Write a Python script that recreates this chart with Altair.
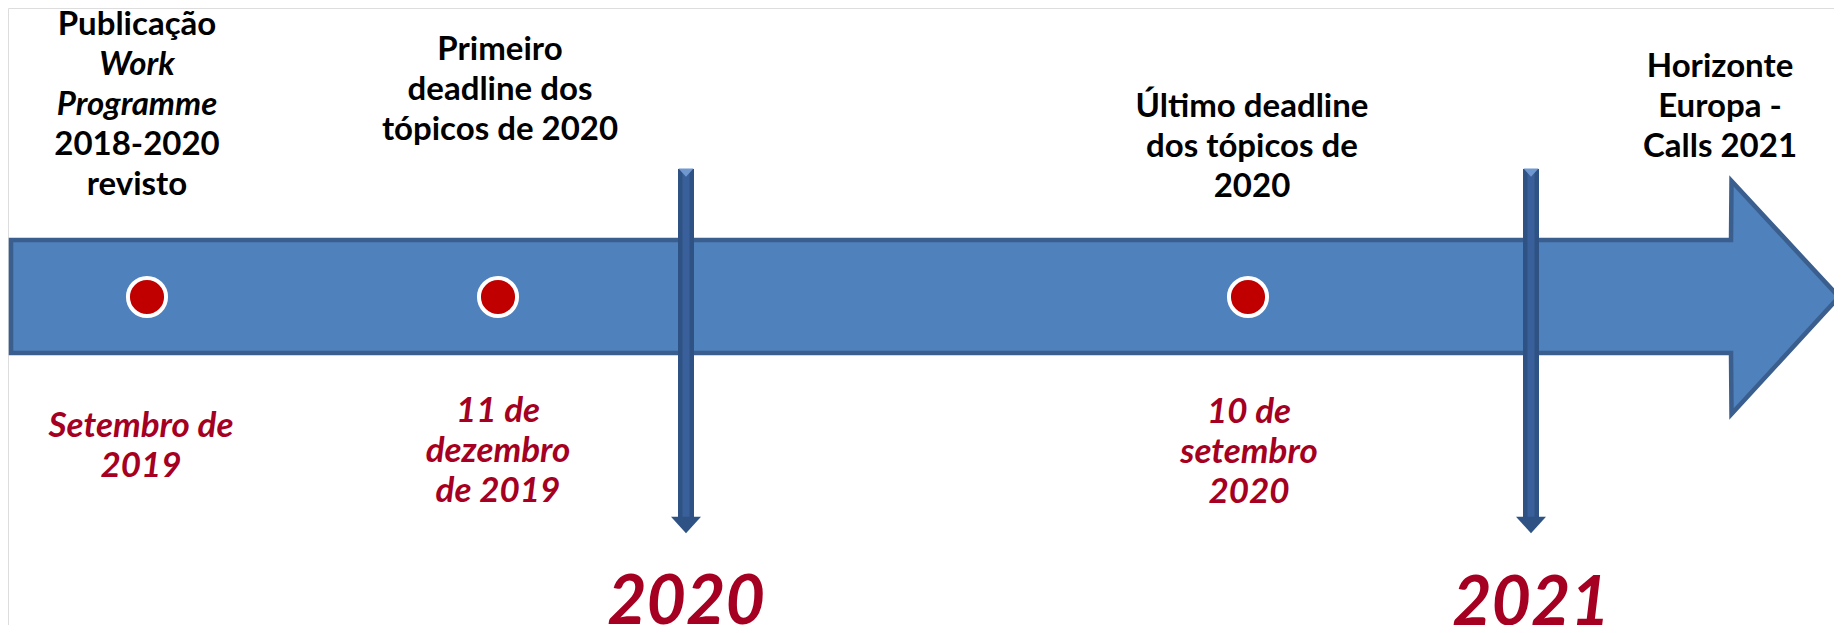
import altair as alt
import pandas as pd

# ---------------- data ----------------
# main timeline arrow (outline vertices: x, top edge, bottom edge)
arrow_x = [11, 1731, 1731.5, 1839]
arrow_top = [240, 240, 181, 297]
arrow_bottom = [353, 353, 414, 297]

# events (red dots)
event_x = [147, 498, 1248]
event_y = [297, 297, 297]

# year separators
year_labels = ["2020", "2021"]
year_x = [686, 1531]
year_line_top = [169, 169]
year_line_bottom = [519, 519]
year_cap_y = [176, 176]
year_head_y = [525, 525]
year_text_y = [624, 625]

# labels above the arrow (group index, italic flag)
top_text = ["Publicação", "Work", "Programme", "2018-2020", "revisto",
            "Primeiro", "deadline dos", "tópicos de 2020",
            "Último deadline", "dos tópicos de", "2020",
            "Horizonte", "Europa -", "Calls 2021"]
top_group = [0, 0, 0, 0, 0, 1, 1, 1, 2, 2, 2, 3, 3, 3]
top_italic = [False, True, True, False, False,
              False, False, False,
              False, False, False,
              False, False, False]
top_group_x = [137, 500, 1252, 1720]
top_group_y = [35, 60, 117, 77]

# date labels below the arrow
bottom_text = ["Setembro de", "2019",
               "11 de", "dezembro", "de 2019",
               "10 de", "setembro", "2020"]
bottom_group = [0, 0, 1, 1, 1, 2, 2, 2]
bottom_group_x = [141, 498, 1249]
bottom_group_y = [437, 422, 423]

LINE_H = 40

# ---------------- tables ----------------
def lines_table(texts, groups, gx, gy, italic=None):
    rows = []
    idx = {}
    for i, (t, g) in enumerate(zip(texts, groups)):
        k = idx.get(g, 0)
        idx[g] = k + 1
        rows.append({"text": t, "x": gx[g], "y": gy[g] + k * LINE_H,
                     "italic": bool(italic[i]) if italic else True})
    return pd.DataFrame(rows)

arrow_df = pd.DataFrame({"x": arrow_x, "top": arrow_top, "bottom": arrow_bottom})
event_df = pd.DataFrame({"x": event_x, "y": event_y})
year_df = pd.DataFrame({"label": year_labels, "x": year_x, "top": year_line_top,
                        "bottom": year_line_bottom, "cap": year_cap_y,
                        "head": year_head_y, "ty": year_text_y})
top_df = lines_table(top_text, top_group, top_group_x, top_group_y, top_italic)
bot_df = lines_table(bottom_text, bottom_group, bottom_group_x, bottom_group_y)

X_DOMAIN = [8, 1834]
Y_DOMAIN = [8, 625]


def X(f):
    return alt.X(f, type="quantitative",
                 scale=alt.Scale(domain=X_DOMAIN, nice=False, zero=False), axis=None)


def Y(f):
    return alt.Y(f, type="quantitative",
                 scale=alt.Scale(domain=Y_DOMAIN, nice=False, zero=False, reverse=True),
                 axis=None)


FONT = "Lato"
RED_TXT = "#A50021"
LINE_DARK = "#2E5283"
LINE_MID = "#39609A"

arrow = alt.Chart(arrow_df).mark_area(
    fill="#4F81BD", stroke="#3A5F8E", strokeWidth=4.5, interpolate="linear",
    clip=False, opacity=1
).encode(x=X("x"), y=Y("top"), y2=alt.Y2("bottom"))

rule_outer = alt.Chart(year_df).mark_rule(
    color=LINE_DARK, strokeWidth=16, clip=False
).encode(x=X("x"), y=Y("top"), y2=alt.Y2("bottom"))

rule_inner = alt.Chart(year_df).mark_rule(
    color=LINE_MID, strokeWidth=7, clip=False
).encode(x=X("x"), y=Y("top"), y2=alt.Y2("bottom"))

rule_head = alt.Chart(year_df).mark_point(
    shape="M-1,-0.55L1,-0.55L0,0.55Z", filled=True, size=900,
    color=LINE_DARK, opacity=1, strokeWidth=0, clip=False
).encode(x=X("x"), y=Y("head"))

rule_cap = alt.Chart(year_df).mark_point(
    shape="M-1,-1L1,-1L0,0.1Z", filled=True, size=225,
    color="#6F97D0", opacity=1, strokeWidth=0, clip=False
).encode(x=X("x"), y=Y("cap"))

dots = alt.Chart(event_df).mark_circle(
    color="#C00000", stroke="white", strokeWidth=4, size=1452, opacity=1, clip=False
).encode(x=X("x"), y=Y("y"))

top_normal = alt.Chart(top_df).transform_filter("!datum.italic").mark_text(
    font=FONT, fontWeight="bold", fontSize=33, color="black",
    align="center", baseline="alphabetic", clip=False
).encode(x=X("x"), y=Y("y"), text="text:N")

top_ital = alt.Chart(top_df).transform_filter("datum.italic").mark_text(
    font=FONT, fontWeight="bold", fontStyle="italic", fontSize=33, color="black",
    align="center", baseline="alphabetic", clip=False
).encode(x=X("x"), y=Y("y"), text="text:N")

bottom_txt = alt.Chart(bot_df).mark_text(
    font=FONT, fontWeight="bold", fontStyle="italic", fontSize=35, color=RED_TXT,
    align="center", baseline="alphabetic", clip=False
).encode(x=X("x"), y=Y("y"), text="text:N")

years = alt.Chart(year_df).mark_text(
    font=FONT, fontWeight="bold", fontStyle="italic", fontSize=68, color=RED_TXT,
    align="center", baseline="alphabetic", clip=False
).encode(x=X("x"), y=Y("ty"), text="label:N")

chart = alt.layer(
    arrow, rule_outer, rule_inner, rule_head, rule_cap, dots,
    top_normal, top_ital, bottom_txt, years
).properties(
    width=1826, height=617, padding=0,
    autosize=alt.AutoSizeParams(type="none")
).configure_view(stroke=None).configure(background="white")

chart.save("out.html", embed_options={"renderer": "svg", "actions": False})
